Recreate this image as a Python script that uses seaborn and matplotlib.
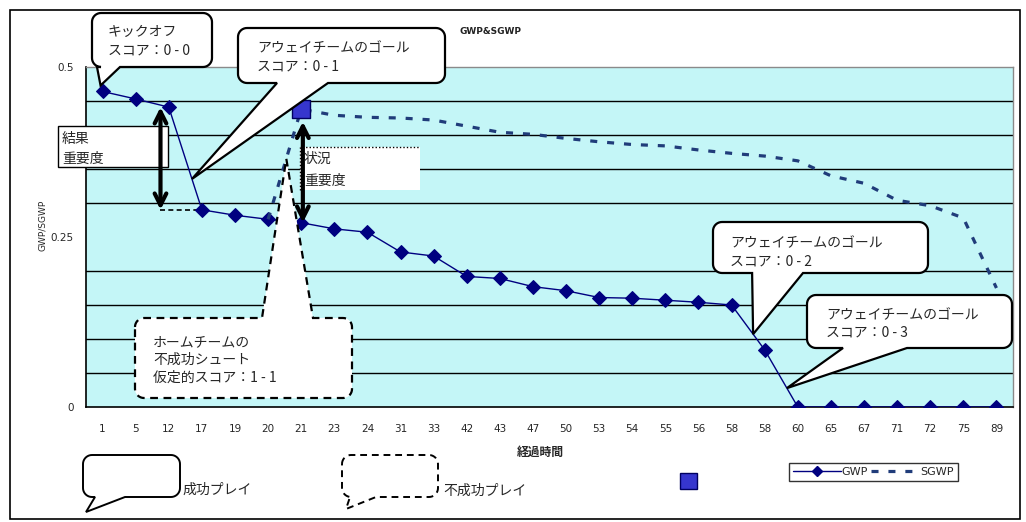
import numpy as np
import matplotlib
matplotlib.use("Agg")
import matplotlib.pyplot as plt
from matplotlib.patches import Polygon, Rectangle, FancyArrowPatch
from matplotlib.lines import Line2D
import seaborn as sns

# ---- data -------------------------------------------------------------
minutes = ["1", "5", "12", "17", "19", "20", "21", "23", "24", "31", "33", "42",
           "43", "47", "50", "53", "54", "55", "56", "58", "58", "60", "65", "67",
           "71", "72", "75", "89"]
gwp = [0.464, 0.453, 0.441, 0.290, 0.282, 0.276, 0.271, 0.262, 0.257, 0.228,
       0.222, 0.192, 0.189, 0.177, 0.171, 0.161, 0.160, 0.157, 0.154, 0.150,
       0.084, 0.0, 0.0, 0.0, 0.0, 0.0, 0.0, 0.0]
sgwp = [np.nan, np.nan, np.nan, np.nan, np.nan,
        0.276, 0.438, 0.429, 0.426, 0.425, 0.422, 0.413, 0.404, 0.401, 0.395,
        0.390, 0.386, 0.384, 0.378, 0.373, 0.369, 0.362, 0.340, 0.329, 0.304,
        0.296, 0.278, 0.175]
y_ticks = [0, 0.25, 0.5]
y_tick_labels = ["0", "0.25", "0.5"]
grid_levels = [0.05, 0.10, 0.15, 0.20, 0.25, 0.30, 0.35, 0.40, 0.45]

# ---- style ------------------------------------------------------------
sns.set_style("white")
plt.rcParams["font.family"] = ["Noto Sans CJK JP", "DejaVu Sans"]

W, H = 1026, 522
fig = plt.figure(figsize=(W / 100, H / 100), dpi=100)
fig.patch.set_facecolor("white")

L, R, T, B = 86, 1013, 67, 407
ax = fig.add_axes([L / W, 1 - B / H, (R - L) / W, (B - T) / H])
ax.set_facecolor("#C4F6F7")

NAVY = "#000080"
SG_COL = "#203C7A"

idx = np.arange(len(minutes))
sns.lineplot(x=idx, y=gwp, ax=ax, color=NAVY, linewidth=1.0, marker="D",
             markersize=7, markeredgecolor=NAVY, zorder=4)
sns.lineplot(x=idx, y=sgwp, ax=ax, color=SG_COL, linewidth=2.3,
             linestyle=(0, (2.2, 3.1)), zorder=4)
# square marking the SGWP value right after the shot
sns.scatterplot(x=[idx[6]], y=[sgwp[6]], ax=ax, marker="s", s=150,
                color="#3636CE", edgecolor="#000060", linewidth=1, zorder=6)

ax.set_xlim(-0.5, len(minutes) - 0.5)
ax.set_ylim(0, 0.5)
ax.set_xticks(idx)
ax.set_xticklabels(minutes, fontsize=7.5, family="DejaVu Sans")
ax.set_xticks(np.arange(-0.5, len(minutes), 1.0), minor=True)
ax.tick_params(axis="x", which="major", length=0, pad=12)
ax.tick_params(axis="x", which="minor", direction="in", length=4, width=1,
               color="black")
ax.set_yticks(y_ticks)
ax.set_yticklabels(y_tick_labels, fontsize=7.5, family="DejaVu Sans")
ax.set_yticks(grid_levels, minor=True)
ax.tick_params(axis="y", which="both", length=0, pad=9)
ax.grid(False)
ax.grid(True, which="minor", axis="y", color="black", linewidth=1.0)
ax.set_xlabel("")
ax.set_ylabel("")
for side in ("left", "bottom"):
    ax.spines[side].set_color("black")
    ax.spines[side].set_linewidth(1.2)
for side in ("top", "right"):
    ax.spines[side].set_color("#8A8A8A")
    ax.spines[side].set_linewidth(1.0)
for sp in ax.spines.values():
    sp.set_visible(True)


# ---- helpers (pixel coordinates, origin top-left) ----------------------
def fpos(x, y):
    return (x / W, 1 - y / H)


def data_px(xd, yd):
    dx, dy = ax.transData.transform((xd, yd))
    return (dx, H - dy)


def balloon(x0, y0, x1, y1, edge, a, b, tip, dashed=False, r=9, lw=1.6):
    pts = []

    def arc(cx, cy, t0, t1):
        for t in np.linspace(np.radians(t0), np.radians(t1), 10):
            pts.append((cx + r * np.cos(t), cy + r * np.sin(t)))

    arc(x0 + r, y0 + r, 180, 270)
    if edge == "top":
        pts.extend([(a, y0), tip, (b, y0)])
    arc(x1 - r, y0 + r, 270, 360)
    arc(x1 - r, y1 - r, 0, 90)
    if edge == "bottom":
        pts.extend([(b, y1), tip, (a, y1)])
    arc(x0 + r, y1 - r, 90, 180)
    poly = Polygon([fpos(x, y) for x, y in pts], closed=True,
                   transform=fig.transFigure, facecolor="white",
                   edgecolor="black", linewidth=lw,
                   linestyle=(0, (3.5, 2.5)) if dashed else "-", zorder=5)
    fig.add_artist(poly)


def label(x, y, s, size=10, **kw):
    fig.text(*fpos(x, y), s, fontsize=size, ha=kw.pop("ha", "left"),
             va=kw.pop("va", "center"), zorder=9, **kw)


# ---- callouts ---------------------------------------------------------
kx, ky = data_px(idx[0], gwp[0])
balloon(92, 13, 212, 67, "bottom", 97, 120, (kx - 2, ky - 6))
label(108, 32, "キックオフ")
label(108, 51, "スコア：0 - 0")

g1 = 2.7
balloon(238, 28, 445, 83, "bottom", 277, 328,
        data_px(g1, np.interp(g1, idx, gwp)))
label(257, 48, "アウェイチームのゴール")
label(257, 67, "スコア：0 - 1")

sg_idx = idx[5:]
sg_val = np.array(sgwp[5:])
s1 = 5.55
balloon(135, 318, 352, 398, "top", 262, 313,
        data_px(s1, np.interp(s1, sg_idx, sg_val)), dashed=True)
label(153, 342, "ホームチームの")
label(153, 360, "不成功シュート")
label(153, 378, "仮定的スコア：1 - 1")

g2 = 19.65
t2 = data_px(g2, np.interp(g2, idx, gwp))
balloon(713, 222, 928, 273, "bottom", t2[0] - 1, 803, t2)
label(730, 243, "アウェイチームのゴール")
label(730, 262, "スコア：0 - 2")

g3 = 20.67
balloon(807, 295, 1012, 348, "bottom", 843, 907,
        data_px(g3, np.interp(g3, idx, gwp)))
label(826, 315, "アウェイチームのゴール")
label(826, 333, "スコア：0 - 3")

# outcome importance box and arrow
fig.add_artist(Rectangle(fpos(58, 167), 110 / W, 41 / H,
                         transform=fig.transFigure, facecolor="white",
                         edgecolor="black", linewidth=1.0, zorder=5))
label(62, 139, "結果")
label(62, 159, "重要度")
xa = 1.75
ax.plot([xa, 2.85], [gwp[3], gwp[3]], color="black", linewidth=1.2,
        linestyle=(0, (3, 2)), zorder=3)
fig.add_artist(FancyArrowPatch((xa, gwp[3]), (xa, gwp[2]),
                               transform=ax.transData,
                               arrowstyle="<->,head_length=0.7,head_width=0.35",
                               mutation_scale=12, linewidth=3, color="black",
                               shrinkA=0, shrinkB=0, zorder=8))

# situation importance box and arrow
fig.add_artist(Rectangle(fpos(300, 190), 120 / W, 43 / H,
                         transform=fig.transFigure, facecolor="white",
                         edgecolor="none", zorder=5))
fig.add_artist(Line2D([300 / W, 300 / W, 420 / W],
                      [1 - 190 / H, 1 - 147 / H, 1 - 147 / H],
                      transform=fig.transFigure, color="black", linewidth=1,
                      linestyle=(0, (1, 1.5)), zorder=6))
label(304, 159, "状況")
label(304, 181, "重要度")
xb = 6.05
fig.add_artist(FancyArrowPatch((xb, gwp[6]), (xb, sgwp[6]),
                               transform=ax.transData,
                               arrowstyle="<->,head_length=0.7,head_width=0.35",
                               mutation_scale=12, linewidth=3, color="black",
                               shrinkA=0, shrinkB=9, zorder=8))

# ---- titles -----------------------------------------------------------
label(490, 31, "GWP&SGWP", size=6.5, ha="center", family="DejaVu Sans",
      fontweight="bold", color="#222222")
label(43, 225, "GWP/SGWP", size=6.5, ha="center", rotation=90,
      family="DejaVu Sans")
label(540, 452, "経過時間", size=8.5, ha="center", fontweight="bold")

# ---- key --------------------------------------------------------------
balloon(83, 455, 180, 497, "bottom", 95, 125, (86, 512), lw=1.4)
label(182, 490, "成功プレイ", size=10)
balloon(342, 455, 438, 497, "bottom", 350, 376, (346, 509), dashed=True,
        lw=1.4)
label(443, 491, "不成功プレイ", size=10)
fig.add_artist(Rectangle(fpos(680, 489), 17 / W, 16 / H,
                         transform=fig.transFigure, facecolor="#3636CE",
                         edgecolor="#000060", linewidth=1, zorder=5))
handles = [Line2D([], [], color=NAVY, linewidth=1.0, marker="D", markersize=5),
           Line2D([], [], color=SG_COL, linewidth=2.3,
                  linestyle=(0, (2.2, 3.1)))]
leg = fig.legend(handles=handles, labels=["GWP", "SGWP"], loc="upper left",
                 bbox_to_anchor=fpos(789, 463), ncol=2, frameon=True,
                 fancybox=False, edgecolor="black", fontsize=8,
                 handlelength=4.3, handletextpad=0.1, columnspacing=0.3,
                 borderpad=0.35, borderaxespad=0,
                 prop={"family": "DejaVu Sans", "size": 8})
leg.get_frame().set_linewidth(1.0)

# outer frame
fig.add_artist(Rectangle(fpos(10, 519), 1010 / W, 509 / H,
                         transform=fig.transFigure, facecolor="none",
                         edgecolor="black", linewidth=1.2, zorder=10))

fig.savefig("out.png", dpi=100, facecolor="white")
